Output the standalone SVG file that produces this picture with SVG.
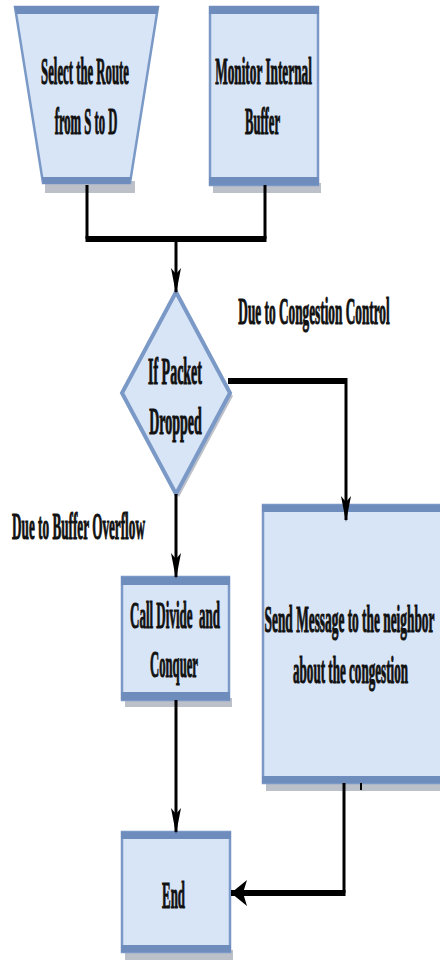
<svg xmlns="http://www.w3.org/2000/svg" width="440" height="961" viewBox="0 0 440 961">
<style>
.fill{fill:#d8e5f7;stroke:#7b99c6;stroke-width:2.5}
.band{fill:#6f8dbc}
.shadow{fill:#bcc0c8}
.t{font-family:"Liberation Serif","Times New Roman",serif;font-weight:bold;font-size:37px;fill:#111;stroke:#111;stroke-width:1.1;text-anchor:middle;white-space:pre}
.thin{stroke:#000;stroke-width:3;fill:none}
.thick{stroke:#000;stroke-width:6;fill:none}
</style>
<defs>
<marker id="ah" markerUnits="userSpaceOnUse" markerWidth="30" markerHeight="14" viewBox="0 -7 26 14" refX="24" refY="0" orient="auto">
<path d="M0,-5 L26,0 L0,5 L6,0 Z" fill="#000"/>
</marker>
<marker id="ahb" markerUnits="userSpaceOnUse" markerWidth="18" markerHeight="30" viewBox="0 -15 18 30" refX="16" refY="0" orient="auto">
<path d="M0,-13 L16,0 L0,13 L4,0 Z" fill="#000"/>
</marker>
</defs>

<g id="select-route">
<rect class="shadow" x="45" y="181" width="90" height="12"/>
<polygon class="fill" points="15,7 158,7 130,183 43,183"/>
<polygon class="band" points="14,6 159,6 157,14 16,14"/>
<polygon class="band" points="42,177 131,177 130,184 43,184"/>
<text class="t" transform="translate(85,84) scale(0.345,1)">Select the Route</text>
<text class="t" transform="translate(86,134) scale(0.342,1)">from S to D</text>
</g>

<g id="monitor-buffer">
<rect class="shadow" x="213" y="183" width="108" height="10"/>
<rect class="fill" x="210" y="7" width="108" height="178"/>
<rect class="band" x="209" y="6" width="110" height="8"/>
<rect class="band" x="209" y="177" width="110" height="8"/>
<text class="t" transform="translate(263.5,84) scale(0.359,1)">Monitor Internal</text>
<text class="t" transform="translate(262.5,134) scale(0.341,1)">Buffer</text>
</g>

<g id="if-packet-dropped">
<polygon class="shadow" points="233,396 179,497 176,494 230,393"/>
<polygon fill="#d8e5f7" stroke="#7b99c6" stroke-width="4" points="176,292 230,393 176,494 122,393"/>
<text class="t" transform="translate(175,384) scale(0.378,1)">If Packet</text>
<text class="t" transform="translate(175.5,434) scale(0.378,1)">Dropped</text>
</g>

<g id="call-divide">
<rect class="shadow" x="125" y="698" width="107" height="9"/>
<rect class="fill" x="122" y="577" width="107" height="123"/>
<rect class="band" x="121" y="577" width="109" height="8"/>
<rect class="band" x="121" y="692" width="109" height="8"/>
<text class="t" transform="translate(175,628) scale(0.352,1)" xml:space="preserve">Call Divide  and</text>
<text class="t" transform="translate(174,677) scale(0.343,1)">Conquer</text>
</g>

<g id="send-message">
<rect class="shadow" x="266" y="781" width="180" height="10"/>
<rect class="fill" x="263" y="505" width="185" height="278"/>
<rect class="band" x="262" y="505" width="186" height="7"/>
<rect class="band" x="262" y="776" width="186" height="7"/>
<text class="t" transform="translate(349.5,632) scale(0.361,1)">Send Message to the neighbor</text>
<text class="t" transform="translate(350.5,683) scale(0.354,1)">about the congestion</text>
</g>

<g id="end">
<rect class="shadow" x="125" y="950" width="108" height="10"/>
<rect class="fill" x="122" y="832" width="108" height="120"/>
<rect class="band" x="121" y="832" width="110" height="7"/>
<rect class="band" x="121" y="945" width="110" height="7"/>
<text class="t" transform="translate(173.5,908) scale(0.349,1)">End</text>
</g>

<g id="labels">
<text class="t" transform="translate(314,324) scale(0.359,1)">Due to Congestion Control</text>
<text class="t" transform="translate(78.5,539) scale(0.357,1)">Due to Buffer Overflow</text>
</g>

<g id="connectors">
<polyline class="thin" points="87,185 87,239"/>
<polyline class="thin" points="265,185 265,239"/>
<line class="thick" x1="85.5" y1="239" x2="266.5" y2="239"/>
<line class="thin" x1="176" y1="242" x2="176" y2="292" marker-end="url(#ah)"/>
<polyline class="thick" points="228,381 346,381"/>
<line class="thin" x1="346" y1="378" x2="346" y2="520" marker-end="url(#ah)"/>
<line class="thin" x1="176" y1="494" x2="176" y2="577" marker-end="url(#ah)"/>
<line class="thin" x1="176" y1="700" x2="176" y2="832" marker-end="url(#ah)"/>
<polyline class="thin" points="344,783 344,893"/>
<line class="thick" x1="345.5" y1="893" x2="231" y2="893" marker-end="url(#ahb)"/>
<rect x="360" y="783" width="2" height="7" fill="#000"/>
</g>
</svg>
